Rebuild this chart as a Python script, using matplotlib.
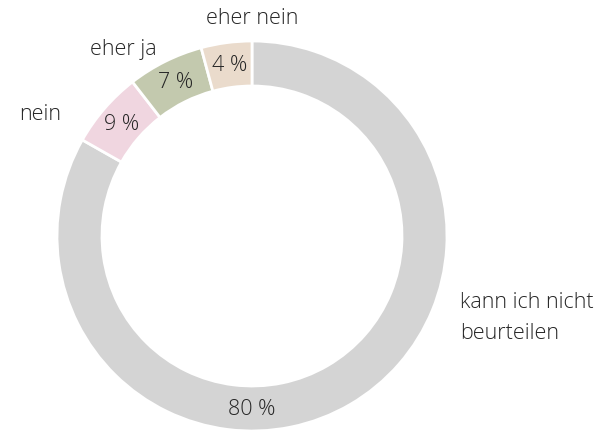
import numpy as np
import matplotlib
matplotlib.use('Agg')
import matplotlib.pyplot as plt

plt.rcParams['font.family'] = ['Open Sans', 'DejaVu Sans']

# data (clockwise from the top)
categories = ['kann ich nicht\nbeurteilen', 'nein', 'eher ja', 'eher nein']
pct_labels = ['80 %', '9 %', '7 %', '4 %']
# wedge sizes as drawn in the picture
shares = [83.2, 6.3, 6.3, 4.2]
colors = ['#d4d4d4', '#f0d6e0', '#c3c9ae', '#eadbcc']

W, H = 609, 431
cx, cy = 252, H - 237
R, ring = 195, 45

fig = plt.figure(figsize=(W / 100, H / 100), dpi=100)
ax = fig.add_axes([0, 0, 1, 1])

ax.pie(shares, colors=colors, startangle=90, counterclock=False,
       radius=R, center=(cx, cy),
       wedgeprops=dict(width=ring, edgecolor='white', linewidth=2))

ax.set_xlim(0, W)
ax.set_ylim(0, H)
ax.set_aspect('equal')
ax.axis('off')

txt_kw = dict(fontsize=15.5, color='#262626', fontweight='light')

# percentage labels in the middle of the ring
ends = 90 - np.cumsum(shares) * 3.6
starts = np.concatenate([[90], ends[:-1]])
mids = (starts + ends) / 2
mids[0] = -90  # big slice labelled at the bottom
r_lab = R - ring / 2
for lab, a in zip(pct_labels, mids):
    t = np.deg2rad(a)
    ax.text(cx + r_lab * np.cos(t), cy + r_lab * np.sin(t), lab,
            ha='center', va='center', **txt_kw)

# category labels outside
ax.text(460, H - 318, categories[0], ha='left', va='center', linespacing=1.65, **txt_kw)
ax.text(40, H - 115, categories[1], ha='center', va='center', **txt_kw)
ax.text(123, H - 50, categories[2], ha='center', va='center', **txt_kw)
ax.text(252, H - 18, categories[3], ha='center', va='center', **txt_kw)

fig.savefig('out.png', dpi=100, facecolor='white')
